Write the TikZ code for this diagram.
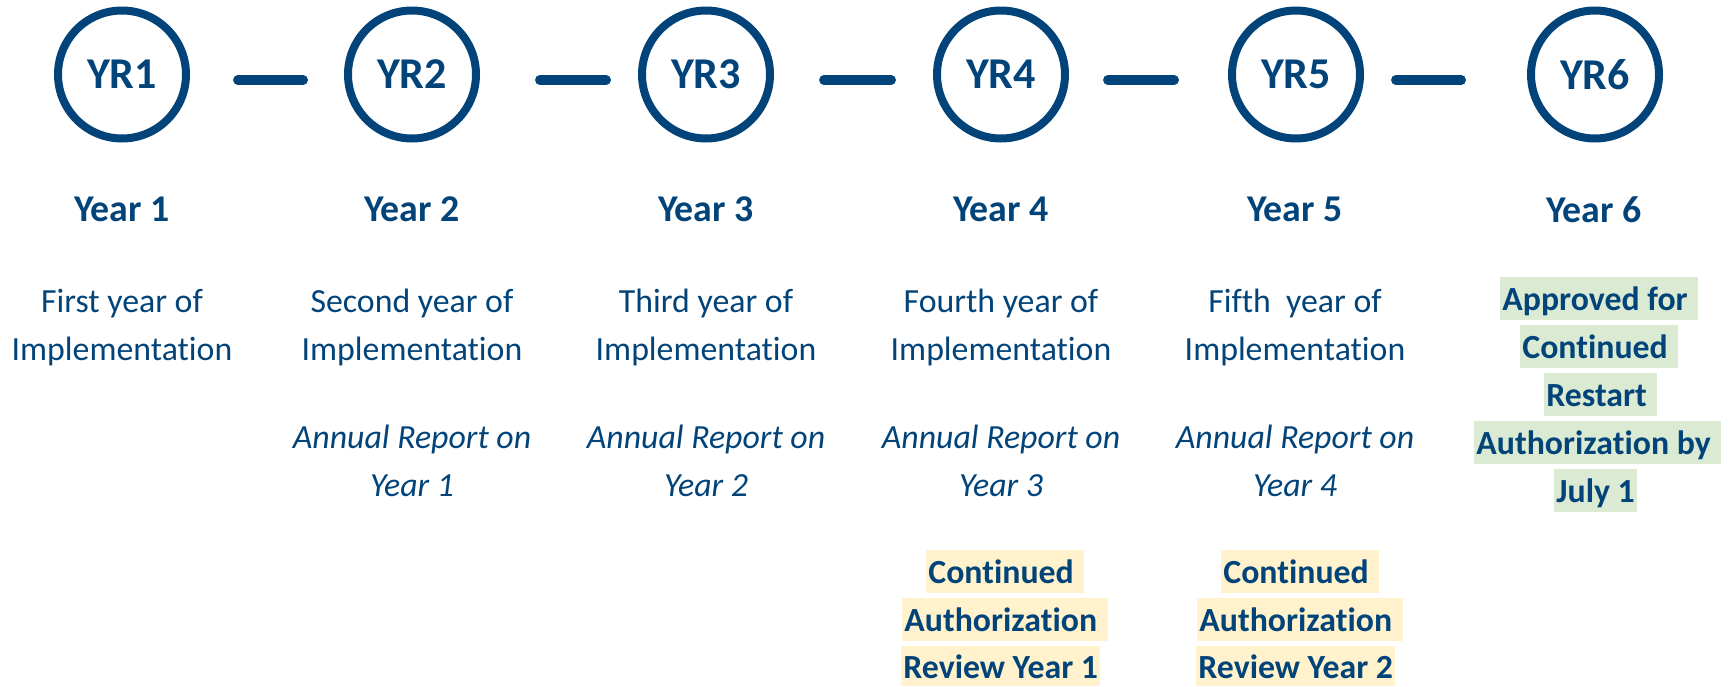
\documentclass[tikz,border=0pt]{standalone}
\usepackage{fontspec}
\setmainfont{Carlito}[Ligatures=NoCommon, RawFeature={-liga;-clig;-calt;-dlig}]
\usepackage{tikz}
\usetikzlibrary{positioning}
\definecolor{navy}{RGB}{2,68,121}
\definecolor{hlyellow}{HTML}{FFF2CC}
\definecolor{hlgreen}{HTML}{DAEAD3}
\newcommand{\tsp}{\rule{0.25em}{0pt}}

\begin{document}
\begin{tikzpicture}[x=0.5pt, y=-0.5pt,
    yr/.style={circle, draw=navy, line width=4pt, minimum size=64pt, inner sep=0pt,
      text=navy, font=\fontsize{22}{26}\selectfont\bfseries},
    link/.style={draw=navy, line width=4.75pt, line cap=round},
    yearlbl/.style={text=navy, inner sep=0pt, font=\fontsize{18.9}{22}\selectfont\bfseries},
    desc/.style={text=navy, inner sep=0pt, align=center, font=\fontsize{16.9}{24}\selectfont},
    report/.style={desc, font=\fontsize{16.9}{24}\selectfont\itshape},
    hlbox/.style={anchor=west, text=navy, inner xsep=1pt, inner ysep=0pt,
      text height=16.5pt, text depth=5pt, font=\fontsize{16.9}{24}\selectfont\bfseries},
    review/.style={hlbox, fill=hlyellow},
    restart/.style={hlbox, fill=hlgreen}]

  \useasboundingbox (0,0) rectangle (1735,686);

  % Define year circles
  \node[yr] (yr1) at (122,74.5) {YR1};
  \node[yr] (yr2) at (412,74.5) {YR2};
  \node[yr] (yr3) at (706,74.5) {YR3};
  \node[yr] (yr4) at (1001,74.5) {YR4};
  \node[yr] (yr5) at (1296,74.5) {YR5};
  \node[yr] (yr6) at (1595,74.5) {YR6};

  % Draw links between circles
  \draw[link, shorten <=23.9pt, shorten >=20.4pt] ([yshift=-2.75pt]yr1.east) -- ([yshift=-2.75pt]yr2.west);
  \draw[link, shorten <=29.9pt, shorten >=15.9pt] ([yshift=-2.75pt]yr2.east) -- ([yshift=-2.75pt]yr3.west);
  \draw[link, shorten <=24.9pt, shorten >=20.9pt] ([yshift=-2.75pt]yr3.east) -- ([yshift=-2.75pt]yr4.west);
  \draw[link, shorten <=19.4pt, shorten >=26.9pt] ([yshift=-2.75pt]yr4.east) -- ([yshift=-2.75pt]yr5.west);
  \draw[link, shorten <=15.9pt, shorten >=32.9pt] ([yshift=-2.75pt]yr5.east) -- ([yshift=-2.75pt]yr6.west);

  % Year labels
  \node[yearlbl] (year1) at (122,209.5) {Year 1};
  \node[yearlbl] (year2) at (412,209.5) {Year 2};
  \node[yearlbl] (year3) at (706,209.5) {Year 3};
  \node[yearlbl] (year4) at (1001,209.5) {Year 4};
  \node[yearlbl] (year5) at (1295,209.5) {Year 5};
  \node[yearlbl] (year6) at (1594,209.5) {Year 6};

  % Implementation years
  \node[desc] (desc1) at (122,327.5) {First year of\\Implementation};
  \node[desc] (desc2) at (412,327.5) {Second year of\\Implementation};
  \node[desc] (desc3) at (706,327.5) {Third year of\\Implementation};
  \node[desc] (desc4) at (1001,327.5) {Fourth year of\\Implementation};
  \node[desc] (desc5) at (1295,327.5) {Fifth\ \ year of\\Implementation};

  % Annual reports
  \node[report] (rep2) at (412,461) {Annual Report on\\Year 1};
  \node[report] (rep3) at (706,461) {Annual Report on\\Year 2};
  \node[report] (rep4) at (1001,461) {Annual Report on\\Year 3};
  \node[report] (rep5) at (1295,461) {Annual Report on\\Year 4};

  % Review highlights
  \node[review] (rev1a) at (926,571.5) {Continued\tsp};
  \node[review] (rev1b) at (902,619.5) {Authorization\tsp};
  \node[review, text depth=3.5pt] (rev1c) at (901,665.5) {Review Year 1};
  \node[review] (rev2a) at (1221,571.5) {Continued\tsp};
  \node[review] (rev2b) at (1197,619.5) {Authorization\tsp};
  \node[review, text depth=3.5pt] (rev2c) at (1196,665.5) {Review Year 2};

  % Restart approval
  \node[restart] (ok1) at (1500,298.5) {Approved for\tsp};
  \node[restart] (ok2) at (1520,346.5) {Continued\tsp};
  \node[restart] (ok3) at (1544,394.5) {Restart\tsp};
  \node[restart] (ok4) at (1474,442.5) {Authorization by\tsp};
  \node[restart] (ok5) at (1554,490.5) {July 1};
\end{tikzpicture}
\end{document}
